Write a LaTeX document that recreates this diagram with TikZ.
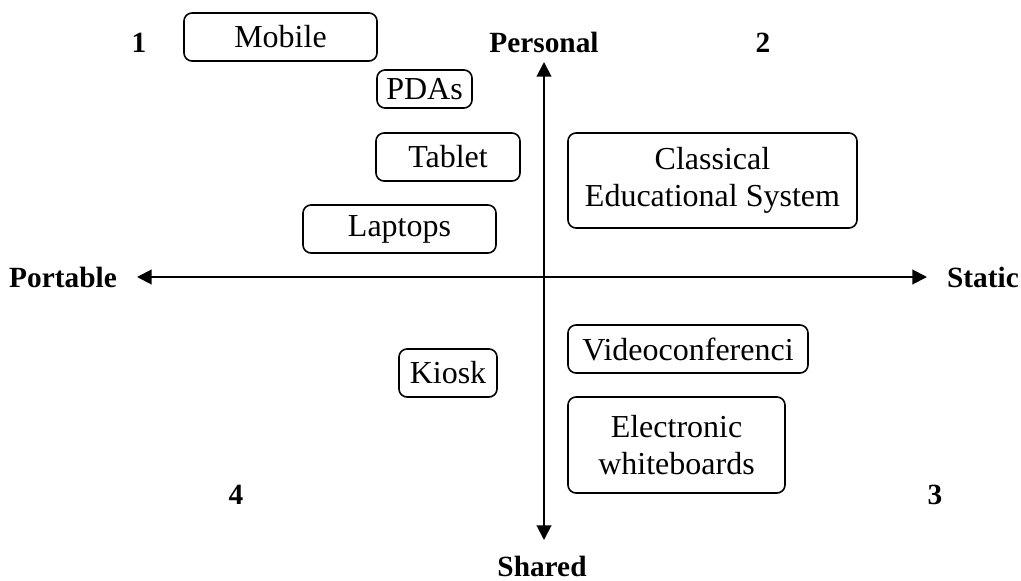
\documentclass[tikz,border=0pt]{standalone}
\usepackage{fontspec}
\setmainfont{Liberation Serif}
\usetikzlibrary{arrows.meta}

\begin{document}
\begin{tikzpicture}[x=0.75pt, y=-0.75pt,
		device/.style={rectangle, draw=black, line width=1.2pt, rounded corners=6pt, inner sep=0pt, align=center, font=\fontsize{24}{28}\selectfont},
		axislabel/.style={inner sep=0pt, font=\fontsize{22}{26}\selectfont\bfseries},
		axisline/.style={line width=1.5pt, {Triangle[length=11pt,width=11pt]}-{Triangle[length=11pt,width=11pt]}}]
	\useasboundingbox (0,0) rectangle (1021,581);
	
	% axes
	\node[axislabel] (portable) at (63,277) {Portable};
	\node[axislabel] (static) at (983,277) {Static};
	\node[axislabel] (personal) at (544,42) {Personal};
	\node[axislabel] (shared) at (542,566) {Shared};
	\coordinate (west) at (137,277);
	\coordinate (east) at (927,277);
	\coordinate (north) at (544,62);
	\coordinate (south) at (544,540);
	\draw[axisline] (west) -- (east);
	\draw[axisline] (north) -- (south);
	
	% quadrant numbers
	\node[axislabel] (q1) at (139,43) {1};
	\node[axislabel] (q2) at (763,43) {2};
	\node[axislabel] (q3) at (935,495) {3};
	\node[axislabel] (q4) at (236,495) {4};
	
	% devices
	\node[device, minimum width=193pt*0.75, minimum height=48pt*0.75] (mobile) at (280.5,37) {Mobile};
	\node[device, minimum width=95pt*0.75, minimum height=38pt*0.75] (pdas) at (424.5,89) {PDAs};
	\node[device, minimum width=144pt*0.75, minimum height=48pt*0.75] (tablet) at (448,157) {Tablet};
	\node[device, minimum width=193pt*0.75, minimum height=48pt*0.75] (laptops) at (399.5,229) {Laptops};
	\node[device, minimum width=289pt*0.75, minimum height=95pt*0.75] (classical) at (712.5,180.5) {Classical\\Educational System};
	\node[device, minimum width=98pt*0.75, minimum height=48pt*0.75] (kiosk) at (448,373) {Kiosk};
	\node[device, minimum width=240pt*0.75, minimum height=48pt*0.75] (video) at (688,349) {Videoconferenci};
	\node[device, minimum width=217pt*0.75, minimum height=96pt*0.75] (whiteboards) at (676.5,445) {Electronic\\whiteboards};
\end{tikzpicture}
\end{document}
